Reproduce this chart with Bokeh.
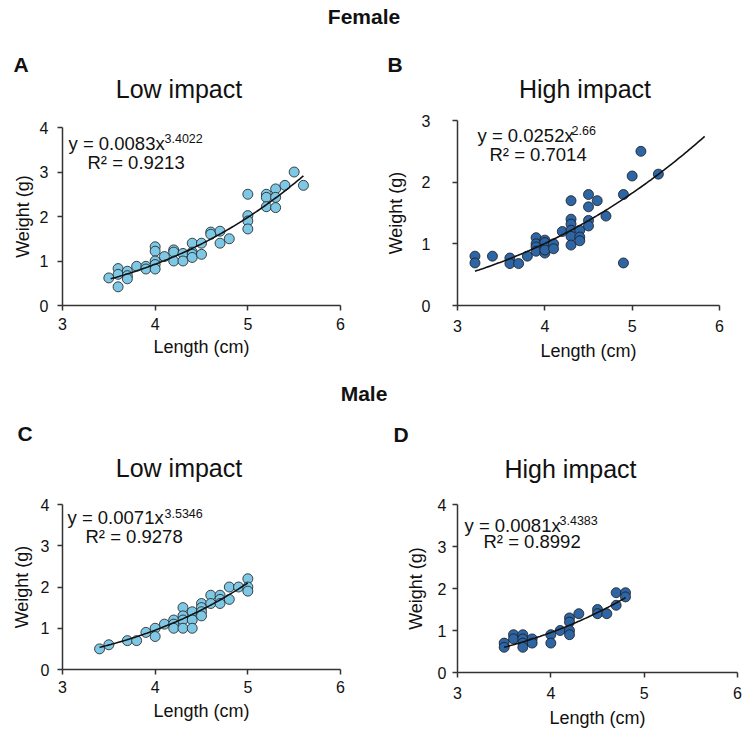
import numpy as np
from bokeh.plotting import figure
from bokeh.layouts import column, row
from bokeh.models import Range1d, FixedTicker, Label
from bokeh.embed import file_html
from bokeh.resources import INLINE

FONT = "Liberation Sans"

# ---------------- data ----------------
x_ticks = [3, 4, 5, 6]

# Panel A: Female, low impact
a_len = [3.5, 3.6, 3.6, 3.6, 3.7, 3.7, 3.7, 3.8, 3.9, 3.9, 4.0, 4.0, 4.0, 4.0, 4.0,
         4.1, 4.2, 4.2, 4.2, 4.3, 4.3, 4.4, 4.4, 4.4, 4.4, 4.5, 4.5, 4.6, 4.6, 4.7,
         4.7, 4.8, 5.0, 5.0, 5.0, 5.0, 5.2, 5.2, 5.2, 5.3, 5.3, 5.3, 5.4, 5.5, 5.6]
a_wt = [0.62, 0.83, 0.70, 0.42, 0.77, 0.67, 0.60, 0.88, 0.88, 0.82, 1.32, 1.22, 1.00, 0.92, 0.82,
        1.10, 1.25, 1.20, 1.00, 1.17, 1.00, 1.40, 1.20, 1.15, 1.08, 1.40, 1.15, 1.65, 1.60, 1.67,
        1.40, 1.50, 2.50, 2.02, 1.90, 1.72, 2.50, 2.43, 2.22, 2.62, 2.43, 2.20, 2.70, 3.00, 2.70]
a_fit = (0.0083, 3.4022, 3.52, 5.6)
a_r2 = "0.9213"

# Panel B: Female, high impact
b_len = [3.2, 3.2, 3.4, 3.6, 3.6, 3.7, 3.8, 3.9, 3.9, 3.9, 3.9, 4.0, 4.0, 4.0, 4.0, 4.1,
         4.1, 4.2, 4.3, 4.3, 4.3, 4.3, 4.3, 4.3, 4.4, 4.4, 4.4, 4.5, 4.5, 4.5, 4.5, 4.6,
         4.7, 4.9, 4.9, 5.0, 5.1, 5.3]
b_wt = [0.80, 0.69, 0.80, 0.77, 0.68, 0.68, 0.80, 1.10, 1.00, 0.95, 0.88, 1.06, 1.02, 0.85, 0.90, 1.00,
        0.92, 1.20, 1.70, 1.40, 1.32, 1.22, 1.12, 0.98, 1.22, 1.11, 1.05, 1.80, 1.60, 1.38, 1.29, 1.70,
        1.45, 1.80, 0.69, 2.10, 2.50, 2.13]
b_fit = (0.0252, 2.66, 3.2, 5.83)
b_r2 = "0.7014"

# Panel C: Male, low impact
c_len = [3.4, 3.5, 3.7, 3.8, 3.9, 4.0, 4.0, 4.1, 4.2, 4.2, 4.2, 4.3, 4.3, 4.3, 4.3, 4.4, 4.4,
         4.4, 4.5, 4.5, 4.5, 4.5, 4.6, 4.6, 4.7, 4.7, 4.7, 4.8, 4.8, 4.9, 5.0, 5.0, 5.0]
c_wt = [0.5, 0.6, 0.7, 0.7, 0.9, 1.0, 0.8, 1.1, 1.2, 1.1, 1.0, 1.5, 1.3, 1.2, 1.0, 1.4, 1.2,
        1.0, 1.6, 1.5, 1.4, 1.3, 1.8, 1.6, 1.8, 1.7, 1.6, 2.0, 1.7, 2.0, 2.2, 2.0, 1.9]
c_fit = (0.0071, 3.5346, 3.4, 5.0)
c_r2 = "0.9278"

# Panel D: Male, high impact
d_len = [3.5, 3.5, 3.6, 3.6, 3.7, 3.7, 3.7, 3.7, 3.8, 3.8, 4.0, 4.0, 4.1, 4.2, 4.2, 4.2, 4.2,
         4.3, 4.5, 4.5, 4.6, 4.7, 4.7, 4.8, 4.8]
d_wt = [0.7, 0.6, 0.9, 0.8, 0.9, 0.8, 0.7, 0.6, 0.8, 0.7, 0.9, 0.7, 1.0, 1.3, 1.2, 1.0, 0.9,
        1.4, 1.5, 1.4, 1.4, 1.9, 1.6, 1.9, 1.8]
d_fit = (0.0081, 3.4383, 3.5, 4.8)
d_r2 = "0.8992"

LIGHT = "#7EC8E6"
DARK = "#2D65A5"
W = 745
TXT = "#111111"
SHIFT = 0.38  # label baseline correction, as a fraction of font size


def header(height, top, items):
    p = figure(width=W, height=height, x_range=Range1d(0, W),
               y_range=Range1d(top + height, top), x_axis_type=None, y_axis_type=None,
               output_backend="svg", toolbar_location=None, min_border=0,
               border_fill_color=None, background_fill_color=None)
    p.grid.visible = False
    p.outline_line_color = None
    for (txt, x, y, size, style, align) in items:
        p.add_layout(Label(x=x, y=y - SHIFT * size, text=txt, text_font=FONT,
                           text_font_size="%gpx" % size,
                           text_font_style=style, text_align=align,
                           text_baseline="alphabetic", text_color=TXT))
    return p


def fmt(v):
    return ("%.4f" % v).rstrip("0")


def panel(xs, ys, color, ymax, fit, r2, geom, borders, stand, texts):
    # geom: page-pixel frame (left, top, width, height); used to place the equation labels
    L, T, fw, fh = geom
    bl, br, bt, bb = borders

    def d(px, py):
        return 3 + (px - L) / fw * 3.0, (T + fh - py) / fh * ymax

    p = figure(frame_width=fw, frame_height=fh,
               min_border_left=bl, min_border_right=br, min_border_top=bt, min_border_bottom=bb,
               x_range=Range1d(3, 6), y_range=Range1d(0, ymax),
               output_backend="svg", toolbar_location=None,
               border_fill_color=None, background_fill_color=None)
    p.grid.visible = False
    p.outline_line_color = None
    p.xaxis.ticker = FixedTicker(ticks=x_ticks)
    p.yaxis.ticker = FixedTicker(ticks=list(range(0, ymax + 1)))
    p.xaxis.axis_label = "Length (cm)"
    p.yaxis.axis_label = "Weight (g)"
    for ax in (p.xaxis[0], p.yaxis[0]):
        ax.axis_line_color = "#333333"
        ax.axis_line_width = 1.5
        ax.major_tick_line_color = "#333333"
        ax.major_tick_line_width = 1.5
        ax.major_tick_out = 5
        ax.major_tick_in = 0
        ax.minor_tick_out = 0
        ax.minor_tick_in = 0
        ax.major_label_text_font = FONT
        ax.major_label_text_font_size = "16px"
        ax.major_label_text_color = TXT
        ax.axis_label_text_font = FONT
        ax.axis_label_text_font_size = "18px"
        ax.axis_label_text_font_style = "normal"
        ax.axis_label_text_color = TXT
    p.xaxis.major_label_standoff = stand[0]
    p.xaxis.axis_label_standoff = stand[1]
    p.yaxis.major_label_standoff = stand[2]
    p.yaxis.axis_label_standoff = stand[3]

    p.scatter(xs, ys, size=10, fill_color=color, line_color="#1a1a1a", line_width=0.8)
    a, b, x0, x1 = fit
    xf = np.linspace(x0, x1, 120)
    p.line(xf, a * xf ** b, line_color=TXT, line_width=1.6)

    def lab(txt, pos, size):
        x, y = d(pos[0], pos[1] - SHIFT * size)
        p.add_layout(Label(x=x, y=y, text=txt, text_font=FONT, text_font_size="%gpx" % size,
                           text_align="left", text_baseline="alphabetic", text_color=TXT))

    (ep, sp, rp) = texts
    lab("y = %sx" % fmt(a), ep, 18.5)
    lab(fmt(b), sp, 12.5)
    lab("R² = " + r2, rp, 18.5)
    return p


h1 = header(112, 0, [
    ("Female", 363.5, 24, 21, "bold", "center"),
    ("A", 13, 72, 21, "bold", "left"),
    ("Low impact", 178.5, 98, 25, "normal", "center"),
    ("B", 387, 72, 21, "bold", "left"),
    ("High impact", 584.5, 98, 25, "normal", "center"),
])

pa = panel(a_len, a_wt, LIGHT, 4, a_fit, a_r2, (62, 127, 278, 178), (62, 32, 15, 60),
           (7, 4, 9, 4), ((68, 150), (164, 143), (87, 169)))
pb = panel(b_len, b_wt, DARK, 3, b_fit, b_r2, (457, 120, 262, 185), (85, 26, 8, 60),
           (9, 6, 22, 13), ((477, 142), (571, 135), (489, 161)))

h2 = header(125, 365, [
    ("Male", 363.5, 401, 21, "bold", "center"),
    ("C", 17, 441, 21, "bold", "left"),
    ("Low impact", 178.5, 477, 25, "normal", "center"),
    ("D", 393, 442, 21, "bold", "left"),
    ("High impact", 570, 478, 25, "normal", "center"),
])

pc = panel(c_len, c_wt, LIGHT, 4, c_fit, c_r2, (62, 504, 278, 165), (62, 32, 14, 59),
           (6, 5, 8, 6), ((67, 524), (164, 518), (85, 543)))
pd_ = panel(d_len, d_wt, DARK, 4, d_fit, d_r2, (457, 504, 280, 168), (85, 8, 14, 56),
            (9, 6, 6, 9), ((464, 532), (559, 525), (483, 548)))

layout = column(h1, row(column(pa), column(pb)), h2, row(column(pc), column(pd_)))

open("out.html", "w").write(file_html(layout, INLINE))
